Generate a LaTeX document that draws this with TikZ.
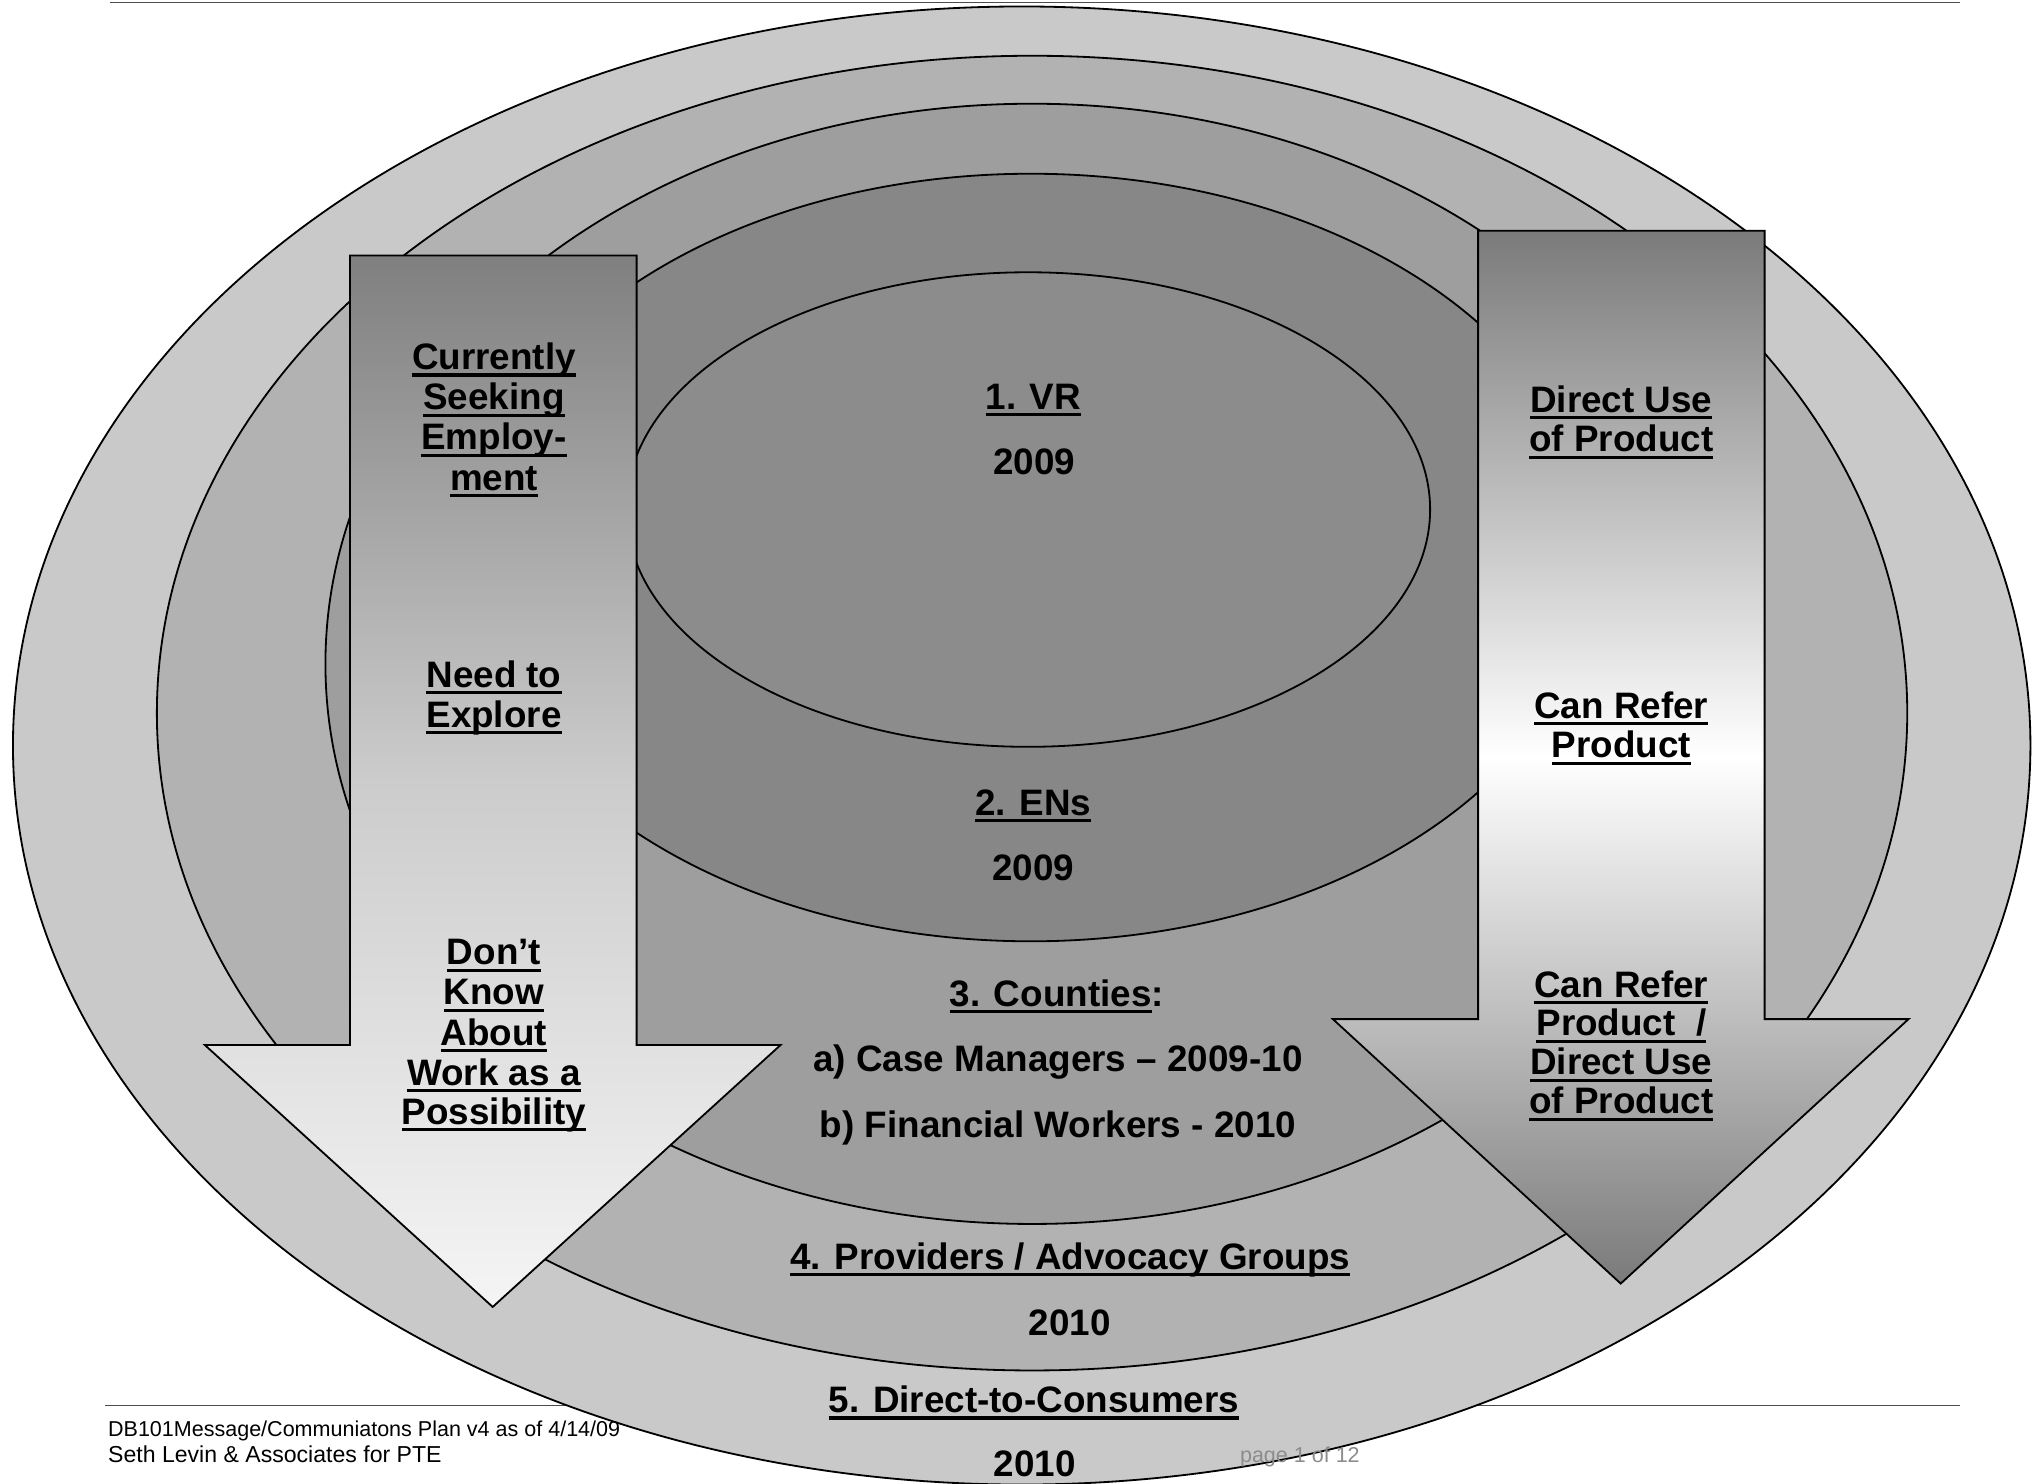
\documentclass[tikz,border=0pt]{standalone}
\usepackage{fontspec}
\setmainfont{Liberation Sans}
\newsavebox\ulbox
\newcommand{\ulx}[1]{\sbox\ulbox{#1}\makebox[0pt][l]{\rule[-2.7pt]{\wd\ulbox}{1.2pt}}\usebox\ulbox}
\definecolor{ringA}{gray}{0.79}
\definecolor{ringB}{gray}{0.70}
\definecolor{ringC}{gray}{0.62}
\definecolor{ringD}{gray}{0.53}
\definecolor{ringE}{gray}{0.55}
\begin{document}
\begin{tikzpicture}[x=0.5pt,y=-0.5pt,
  ring/.style={draw=black,line width=0.7pt},
  arrowshape/.style={draw=black,line width=0.7pt,line join=miter},
  lbl/.style={anchor=base,inner sep=0pt,font=\bfseries\fontsize{14.2}{16}\selectfont},
  rule/.style={draw=black!70,line width=0.7pt},
  foot/.style={anchor=base west,inner sep=0pt}]
\useasboundingbox (0,0) rectangle (1568,1144);
\fill[white] (0,0) rectangle (1568,1144);
% page rules
\draw[rule] (85,2) -- (1512,2);
\draw[rule] (81,1084) -- (1512,1084);
% rings
\draw[ring,fill=ringA] (788,575) ellipse [x radius=389pt,y radius=285pt];
\draw[ring,fill=ringB] (796,550) ellipse [x radius=337.5pt,y radius=253.5pt];
\draw[ring,fill=ringC] (796,512) ellipse [x radius=272.5pt,y radius=216pt];
\draw[ring,fill=ringD] (795,430) ellipse [x radius=218pt,y radius=148pt];
\draw[ring,fill=ringE] (793,393) ellipse [x radius=155pt,y radius=91.5pt];
% left arrow
\path[arrowshape,top color=black!50,bottom color=black!4,middle color=black!20]
  (270,197) -- (491,197) -- (491,806) -- (602,806) -- (380,1008) -- (158,806) -- (270,806) -- cycle;
% right arrow
\path[arrowshape,top color=black!52,bottom color=black!52,middle color=white]
  (1140,178) -- (1361,178) -- (1361,786) -- (1472,786) -- (1250,990) -- (1028,786) -- (1140,786) -- cycle;
% centre labels
\node[lbl] (vr) at (797,315.7) {\ulx{1. VR}};
\node[lbl] (vry) at (797.5,366) {2009};
\node[lbl] (en) at (797,628.6) {\ulx{2. ENs}};
\node[lbl] (eny) at (797,679) {2009};
\node[lbl] (co) at (815,776) {\ulx{3. Counties}:};
\node[lbl] (coa) at (816,826.6) {a) Case Managers – 2009-10};
\node[lbl] (cob) at (816,877.5) {b) Financial Workers - 2010};
\node[lbl] (pr) at (825.5,979) {\ulx{4. Providers / Advocacy Groups}};
\node[lbl] (pry) at (825,1030) {2010};
\node[lbl] (dc) at (797.5,1089.5) {\ulx{5. Direct-to-Consumers}};
\node[lbl] (dcy) at (798,1139) {2010};
% left arrow texts
\node[lbl] (l1) at (381,285) {\ulx{Currently}};
\node[lbl] (l2) at (381,316) {\ulx{Seeking}};
\node[lbl] (l3) at (381,347) {\ulx{Employ-}};
\node[lbl] (l4) at (381,378) {\ulx{ment}};
\node[lbl] (l5) at (381,530) {\ulx{Need to}};
\node[lbl] (l6) at (381,561) {\ulx{Explore}};
\node[lbl] (l7) at (381,744) {\ulx{Don’t}};
\node[lbl] (l8) at (381,775) {\ulx{Know}};
\node[lbl] (l9) at (381,806) {\ulx{About}};
\node[lbl] (l10) at (381,837) {\ulx{Work as a}};
\node[lbl] (l11) at (381,867) {\ulx{Possibility}};
% right arrow texts
\node[lbl] (r1) at (1250.5,318) {\ulx{Direct Use}};
\node[lbl] (r2) at (1250.5,348.6) {\ulx{of Product}};
\node[lbl] (r3) at (1250.5,554) {\ulx{Can Refer}};
\node[lbl] (r4) at (1250.5,584.6) {\ulx{Product}};
\node[lbl] (r5) at (1250.5,769) {\ulx{Can Refer}};
\node[lbl] (r6) at (1250.5,799) {\ulx{Product\ \ /}};
\node[lbl] (r7) at (1250.5,829) {\ulx{Direct Use}};
\node[lbl] (r8) at (1250.5,859) {\ulx{of Product}};
% footer
\node[foot,font=\fontsize{8.3}{10}\selectfont] (f1) at (83,1108) {DB101Message/Communiatons Plan v4 as of 4/14/09};
\node[foot,font=\fontsize{8.9}{10}\selectfont] (f2) at (83,1128) {Seth Levin \& Associates for PTE};
\node[foot,font=\fontsize{8.3}{10}\selectfont,text=black!45] (pg) at (956,1128) {page 1 of 12};
\end{tikzpicture}
\end{document}
